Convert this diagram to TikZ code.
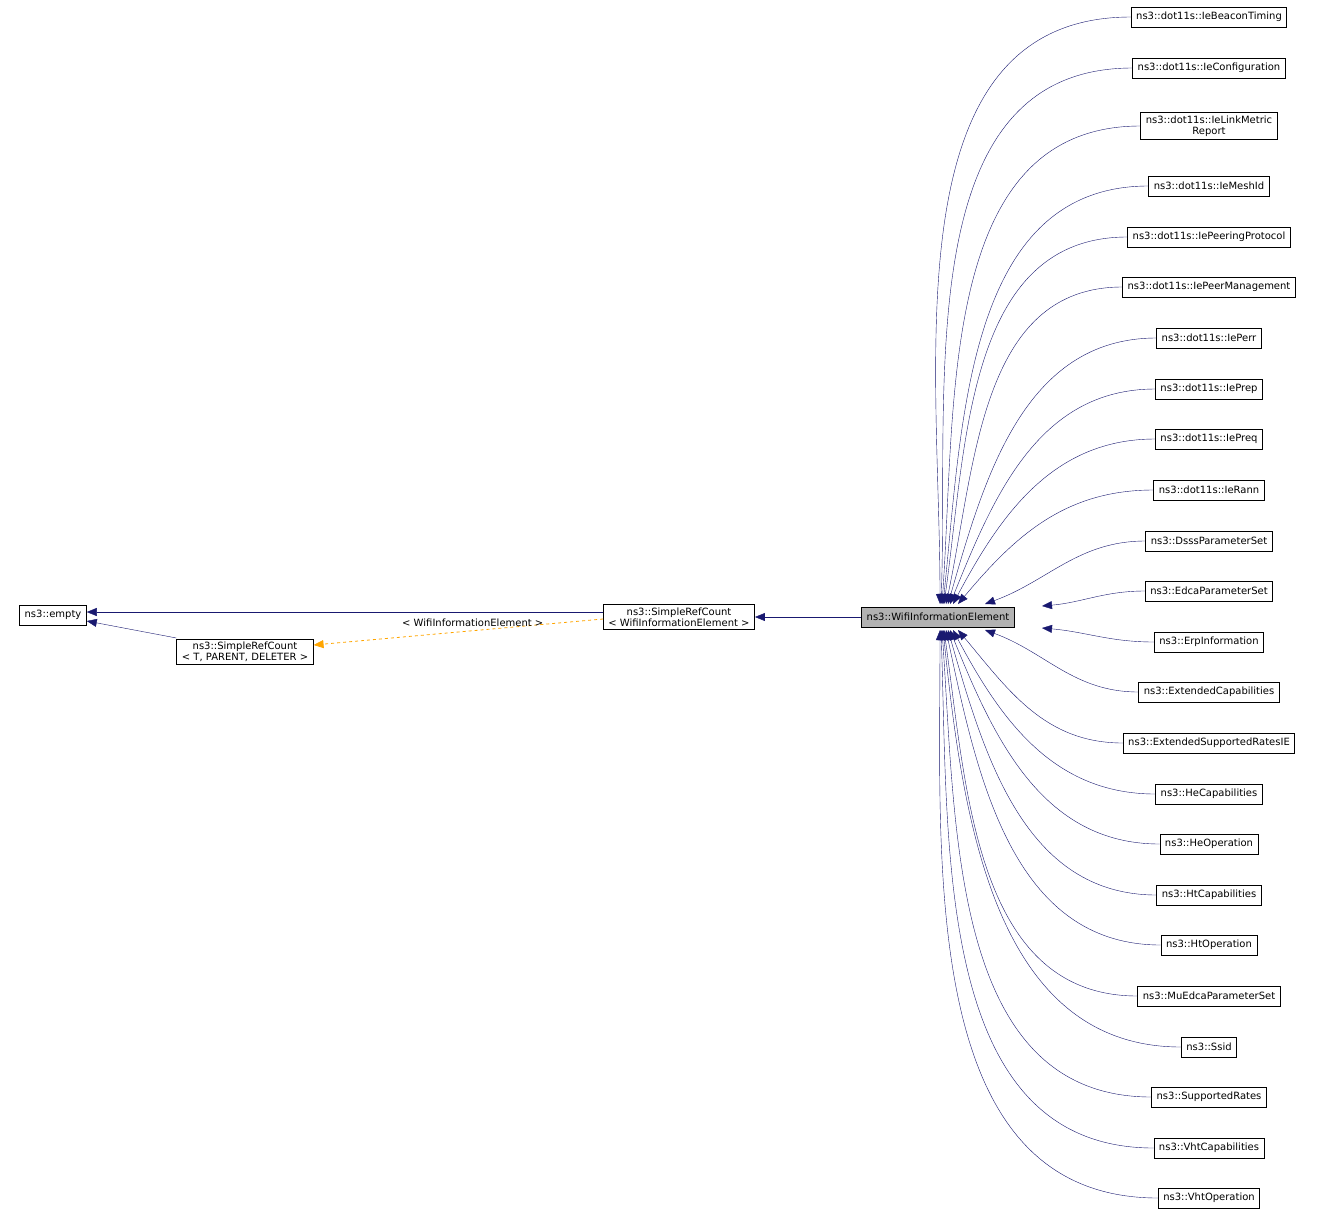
\documentclass[tikz,border=0pt]{standalone}
\usepackage{fontspec}
\setmainfont{DejaVu Sans}
\usetikzlibrary{arrows.meta}
\definecolor{navy}{RGB}{25,25,112}
\definecolor{orng}{RGB}{255,165,0}
\tikzset{
  box/.style={draw,thick,inner xsep=5pt,inner ysep=3pt,font=\fontsize{10}{11}\selectfont,align=center,minimum height=20pt},
  e/.style={navy,-{Triangle[length=10pt,width=8pt]}},
}
\begin{document}
\begin{tikzpicture}[x=1pt,y=-1pt]
\useasboundingbox (0,0) rectangle (1331,1219);
\node[box,fill=black!30] (w) at (938,617) {ns3::WifiInformationElement};
\node[box] (s) at (679,617) {ns3::SimpleRefCount\\\textless{} WifiInformationElement \textgreater};
\node[box] (t) at (245,652) {ns3::SimpleRefCount\\\textless{} T, PARENT, DELETER \textgreater};
\node[box] (em) at (53,615) {ns3::empty};
\draw[e] ([yshift=5pt]s.west) to[out=180,in=0] ([yshift=3pt]em.east);
\draw[e] ([yshift=14pt]t.west) -- ([yshift=-6pt]em.east);
\draw[e] (w.west) -- (s.east);
\draw[orng,dashed,thick,-{Triangle[length=10pt,width=8pt]}] ([yshift=-2pt]s.west) -- node[above,pos=0.45,black,font=\fontsize{10}{11}\selectfont]{\textless{} WifiInformationElement \textgreater} ([yshift=7pt]t.east);
\foreach \n/\lab/\y/\tx/\ty/\ang in {
 a/ns3::dot11s::IeBeaconTiming/17/940/604/90,
 b/ns3::dot11s::IeConfiguration/68/941/604/88,
 c/ns3::dot11s::IeLinkMetric\\Report/126/942/604/86,
 d/ns3::dot11s::IeMeshId/186/943/604/84,
 e2/ns3::dot11s::IePeeringProtocol/237/944/604/82,
 f/ns3::dot11s::IePeerManagement/287/946/604/78,
 g/ns3::dot11s::IePerr/338/948/604/74,
 h/ns3::dot11s::IePrep/389/950/604/68,
 i/ns3::dot11s::IePreq/439/953/604/62,
 j/ns3::dot11s::IeRann/490/958/604/50,
 k/ns3::DsssParameterSet/541/985/604/20,
 l/ns3::EdcaParameterSet/591/1042/606/5,
 m/ns3::ErpInformation/642/1042/628/-5,
 n/ns3::ExtendedCapabilities/692/985/630/-20,
 o/ns3::ExtendedSupportedRatesIE/743/958/630/-50,
 p/ns3::HeCapabilities/794/953/630/-62,
 q/ns3::HeOperation/844/950/630/-68,
 r/ns3::HtCapabilities/895/948/630/-74,
 s2/ns3::HtOperation/945/946/630/-78,
 t2/ns3::MuEdcaParameterSet/996/944/630/-82,
 u/ns3::Ssid/1047/943/630/-84,
 v/ns3::SupportedRates/1097/942/630/-86,
 x/ns3::VhtCapabilities/1148/941/630/-88,
 y/ns3::VhtOperation/1198/940/630/-90}
{
 \node[box] (\n) at (1209,\y) {\lab};
 \draw[e] (\n.west) to[out=180,in=\ang] (\tx,\ty);
}
\end{tikzpicture}
\end{document}
